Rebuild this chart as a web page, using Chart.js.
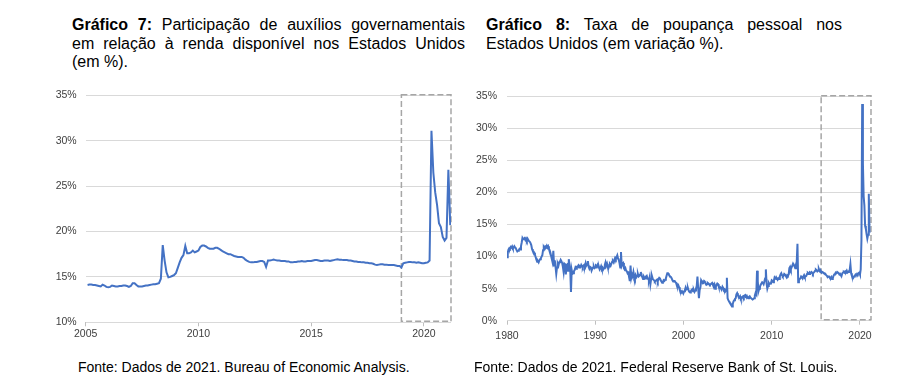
<!DOCTYPE html>
<html>
<head>
<meta charset="utf-8">
<script src="https://cdn.jsdelivr.net/npm/chart.js@4.4.0/dist/chart.umd.min.js"></script>
<style>
  body { margin:0; background:#fff; width:920px; height:388px; position:relative; overflow:hidden;
         font-family:"Liberation Sans", Arial, sans-serif; color:#000; }
  .title { position:absolute; top:16px; font-size:16px; line-height:18.6px; }
  .title .j { text-align:justify; text-align-last:justify; }
  .fonte { position:absolute; top:359px; font-size:14px; line-height:16px; }
  canvas { position:absolute; }
</style>
</head>
<body>
<div class="title" style="left:72px;width:393px;">
  <div class="j"><b>Gráfico 7:</b> Participação de auxílios governamentais</div>
  <div class="j">em relação à renda disponível nos Estados Unidos</div>
  <div>(em %).</div>
</div>
<div class="title" style="left:486px;width:356px;">
  <div class="j"><b>Gráfico 8:</b> Taxa de poupança pessoal nos</div>
  <div>Estados Unidos (em variação %).</div>
</div>
<canvas id="chart7" width="445" height="270" style="left:20px;top:80px;"></canvas>
<canvas id="chart8" width="430" height="270" style="left:460px;top:80px;"></canvas>
<div class="fonte" style="left:78px;">Fonte: Dados de 2021. Bureau of Economic Analysis.</div>
<div class="fonte" style="left:474px;">Fonte: Dados de 2021. Federal Reserve Bank of St. Louis.</div>

<script>
// Gráfico 7: auxílios governamentais / renda disponível (%), mensal jan/2005 - fev/2021
const govStartYear = 2005;
const govValues = [
  14.1, 14.15, 14.15, 14.1, 14.1, 14.05, 14.0, 13.95, 14.15, 14.05, 13.9, 13.85,
  13.9, 14.05, 14.0, 13.95, 13.95, 14.0, 14.0, 14.05, 14.05, 14.0, 13.9, 14.0,
  14.3, 14.3, 14.1, 13.95, 13.95, 13.95, 14.0, 14.05, 14.05, 14.1, 14.15, 14.2,
  14.2, 14.25, 14.3, 14.8, 18.5, 16.8, 15.5, 14.95, 15.0, 15.1, 15.2, 15.4,
  16.0, 16.6, 17.1, 17.4, 18.4, 17.6, 17.6, 17.7, 17.9, 17.7, 17.8, 17.9,
  18.3, 18.45, 18.45, 18.35, 18.2, 18.1, 18.1, 18.1, 18.2, 18.2, 18.1, 17.95,
  17.8, 17.7, 17.6, 17.5, 17.5, 17.4, 17.3, 17.25, 17.2, 17.2, 17.2, 17.1,
  16.9, 16.75, 16.65, 16.6, 16.6, 16.65, 16.65, 16.7, 16.75, 16.75, 16.65, 16.1,
  16.8, 16.8, 16.85, 16.9, 16.85, 16.8, 16.8, 16.75, 16.75, 16.75, 16.7, 16.7,
  16.6, 16.6, 16.65, 16.65, 16.7, 16.7, 16.75, 16.7, 16.7, 16.75, 16.75, 16.75,
  16.8, 16.85, 16.85, 16.8, 16.75, 16.75, 16.8, 16.8, 16.8, 16.75, 16.8, 16.85,
  16.9, 16.95, 16.9, 16.9, 16.85, 16.85, 16.85, 16.8, 16.8, 16.75, 16.7, 16.7,
  16.65, 16.65, 16.6, 16.6, 16.55, 16.55, 16.5, 16.5, 16.45, 16.35, 16.3, 16.35,
  16.4, 16.4, 16.35, 16.35, 16.3, 16.3, 16.3, 16.3, 16.25, 16.2, 16.2, 16.05,
  16.5, 16.55, 16.6, 16.65, 16.65, 16.6, 16.6, 16.55, 16.6, 16.55, 16.5, 16.5,
  16.55, 16.6, 16.8, 31.1, 26.5, 24.3, 22.9, 20.9, 20.5, 19.4, 19.0, 19.3,
  26.8, 20.7
];
const govTicks = [2005, 2010, 2015, 2020];
const govHighlight = [2019.0, 2021.2];

// Gráfico 8: taxa de poupança pessoal (%), mensal jan/1980 - fev/2021
const saveStartYear = 1980;
const saveValues = [
  9.9, 10.6, 11.1, 11.3, 11.2, 11.5, 11.4, 11.6, 11.3, 11.4, 11.6, 11.4,
  11.3, 11.0, 10.8, 10.9, 11.0, 11.2, 11.1, 11.6, 12.2, 12.9, 12.7, 12.8,
  12.9, 12.6, 12.8, 12.5, 12.8, 12.6, 12.4, 12.3, 12.1, 11.8, 11.2, 10.9,
  10.8, 10.6, 10.3, 9.9, 9.5, 9.2, 9.3, 9.1, 9.4, 9.6, 9.7, 10.0,
  10.2, 11.0, 11.5, 11.3, 11.6, 11.5, 11.7, 11.4, 11.6, 11.2, 11.0, 10.6,
  10.1, 9.6, 9.2, 10.9, 8.6, 9.4, 8.4, 7.3, 8.3, 8.9, 8.6, 9.1,
  9.2, 9.5, 9.3, 9.0, 8.4, 7.6, 8.9, 8.8, 7.2, 8.7, 8.8, 7.8,
  9.6, 8.8, 7.9, 4.5, 7.9, 7.3, 7.4, 7.7, 7.9, 8.3, 8.1, 8.4,
  8.4, 8.6, 8.3, 8.5, 8.4, 8.7, 8.5, 8.3, 8.6, 8.7, 8.5, 9.0,
  8.6, 8.8, 9.3, 8.4, 8.1, 8.4, 8.3, 7.8, 8.1, 8.3, 8.5, 8.2,
  8.3, 8.6, 8.5, 8.7, 8.3, 8.4, 8.0, 8.2, 8.5, 8.1, 8.3, 8.0,
  8.2, 8.7, 9.1, 8.6, 8.9, 8.4, 8.2, 8.5, 8.8, 8.6, 8.9, 9.2,
  9.3, 9.1, 9.5, 9.8, 9.6, 9.9, 10.2, 9.7, 9.5, 9.0, 8.3, 10.7,
  8.6, 8.9, 9.0, 8.2, 8.0, 8.2, 7.8, 7.7, 7.4, 7.5, 6.8, 6.2,
  8.6, 6.7, 7.2, 6.9, 7.6, 7.0, 6.6, 7.1, 6.8, 7.0, 7.3, 6.9,
  7.0, 7.2, 7.6, 7.0, 6.8, 6.5, 6.9, 6.7, 6.6, 6.9, 7.0, 6.6,
  6.5, 6.3, 6.8, 5.7, 6.5, 7.0, 6.6, 6.4, 6.3, 6.1, 6.2, 6.3,
  6.4, 6.1, 6.5, 6.7, 6.6, 6.3, 6.1, 5.9, 6.0, 6.3, 6.2, 6.4,
  6.6, 7.0, 7.4, 7.4, 7.2, 7.0, 6.9, 6.8, 6.6, 6.3, 6.1, 6.2,
  6.2, 6.0, 5.9, 5.5, 5.3, 5.5, 5.2, 4.8, 4.6, 4.4, 4.6, 4.4,
  4.3, 4.6, 4.8, 5.2, 4.9, 5.0, 5.1, 4.7, 4.5, 4.4, 4.6, 4.8,
  4.9, 4.6, 4.8, 4.5, 4.7, 5.0, 5.4, 6.9, 5.0, 3.5, 4.8, 5.2,
  6.3, 6.1, 6.0, 5.9, 6.2, 6.1, 5.8, 5.6, 5.7, 5.9, 5.8, 5.7,
  5.6, 5.7, 5.8, 5.9, 5.6, 5.5, 5.7, 5.0, 5.3, 5.6, 5.8, 5.7,
  5.3, 5.1, 5.2, 5.0, 4.9, 5.3, 5.1, 4.8, 4.9, 4.6, 4.8, 6.7,
  3.5, 3.2, 3.0, 2.8, 2.7, 2.5, 2.2, 2.6, 3.0, 3.2, 3.4, 3.5,
  4.1, 4.3, 4.0, 3.7, 3.6, 3.8, 3.4, 3.5, 3.7, 3.8, 3.6, 3.9,
  4.0, 3.8, 3.9, 3.6, 3.5, 3.7, 3.8, 3.6, 3.5, 3.4, 3.3, 3.4,
  3.5, 3.9, 4.3, 4.1, 7.8, 6.2, 4.6, 5.0, 5.3, 5.6, 5.8, 6.0,
  5.9, 5.7, 6.1, 6.6, 8.0, 5.8, 5.0, 5.4, 5.9, 5.7, 5.8, 5.9,
  6.3, 6.2, 6.0, 6.3, 6.8, 6.7, 6.5, 6.6, 6.4, 6.6, 6.5, 6.9,
  7.2, 7.4, 7.1, 6.9, 7.0, 7.3, 7.2, 7.0, 6.8, 7.1, 7.0, 7.2,
  8.2, 8.4, 8.0, 8.3, 8.6, 8.9, 8.7, 8.5, 8.2, 8.8, 9.2, 12.0,
  6.0, 6.3, 6.5, 6.6, 6.9, 6.8, 6.6, 6.9, 7.1, 6.8, 6.9, 7.0,
  7.3, 7.5, 7.4, 7.3, 7.5, 7.4, 7.6, 7.5, 7.3, 7.5, 7.6, 7.8,
  8.0, 7.9, 7.7, 7.8, 8.1, 7.8, 7.6, 7.7, 7.5, 7.6, 7.5, 7.4,
  7.4, 7.3, 7.1, 7.0, 6.8, 6.9, 6.9, 6.7, 6.6, 6.8, 6.5, 6.6,
  7.0, 7.2, 7.3, 7.5, 7.4, 7.6, 7.5, 7.4, 7.2, 7.3, 7.1, 7.0,
  7.4, 7.5, 7.6, 7.5, 7.7, 7.6, 7.8, 7.5, 7.6, 7.7, 7.9, 8.8,
  7.4, 7.0, 6.9, 6.7, 6.9, 7.0, 7.2, 7.1, 7.3, 7.2, 7.4, 7.5,
  7.2, 8.0, 12.5, 33.8, 24.5, 19.4, 18.0, 14.8, 14.3, 13.5, 12.8, 13.4,
  19.8, 13.7
];
const saveTicks = [1980, 1990, 2000, 2010, 2020];
const saveHighlight = [2015.6, 2021.25];

const lineColor = '#4472C4';
const gridColor = '#d9d9d9';
const labelColor = '#404040';

// monthly points; offset = 1 puts the point at month end
function toPoints(startYear, values, offset) {
  return values.map((v, i) => ({ x: startYear + (i + offset) / 12, y: v }));
}

const dashedBox = {
  id: 'dashedBox',
  beforeDatasetsDraw(chart, args, opts) {
    const { ctx, scales: { x, y } } = chart;
    const x0 = x.getPixelForValue(opts.from);
    const x1 = x.getPixelForValue(opts.to);
    const y0 = y.getPixelForValue(y.max) - 0.5;
    const y1 = y.getPixelForValue(y.min) - 1;
    ctx.save();
    ctx.setLineDash([6, 3]);
    ctx.strokeStyle = '#a6a6a6';
    ctx.lineWidth = 1.5;
    ctx.strokeRect(x0, y0, x1 - x0, y1 - y0);
    ctx.restore();
  }
};

function makeChart(id, points, o) {
  return new Chart(document.getElementById(id), {
    type: 'line',
    data: {
      datasets: [{
        data: points,
        borderColor: lineColor,
        borderWidth: 2,
        pointRadius: 0,
        tension: 0,
        fill: false
      }]
    },
    options: {
      responsive: false,
      animation: false,
      layout: { padding: o.padding },
      plugins: {
        legend: { display: false },
        tooltip: { enabled: false },
        dashedBox: { from: o.box[0], to: o.box[1] }
      },
      scales: {
        x: {
          type: 'linear',
          min: o.xMin, max: o.xMax,
          afterBuildTicks: s => { s.ticks = o.xTicks.map(v => ({ value: v })); },
          afterFit: s => { s.height = 20; },
          ticks: {
            color: labelColor,
            font: { family: 'Liberation Sans, Arial', size: 10.5 },
            padding: o.xPad,
            maxRotation: 0,
            callback: v => String(v)
          },
          grid: { drawOnChartArea: false, drawTicks: true, tickLength: 4, color: '#bfbfbf' },
          border: { display: false }
        },
        y: {
          min: o.yMin, max: 35,
          afterFit: s => { s.width = o.yWidth; },
          ticks: {
            stepSize: 5,
            color: labelColor,
            font: { family: 'Liberation Sans, Arial', size: 10.5 },
            padding: o.yPad,
            callback: v => v + '%'
          },
          grid: { color: gridColor, drawTicks: false },
          border: { display: false }
        }
      }
    },
    plugins: [dashedBox]
  });
}

makeChart('chart7', toPoints(govStartYear, govValues, 1), {
  padding: { top: 12.3, right: 14, bottom: 7.7, left: 0 },
  xMin: 2005, xMax: 2021.2, xTicks: govTicks, xPad: 2,
  yMin: 10, yWidth: 65.7, yPad: 9,
  box: govHighlight
});

makeChart('chart8', toPoints(saveStartYear, saveValues, 0), {
  padding: { top: 13.3, right: 19, bottom: 9.3, left: 0 },
  xMin: 1980, xMax: 2021.25, xTicks: saveTicks, xPad: 5.5,
  yMin: 0, yWidth: 47, yPad: 10,
  box: saveHighlight
});
</script>
</body>
</html>
